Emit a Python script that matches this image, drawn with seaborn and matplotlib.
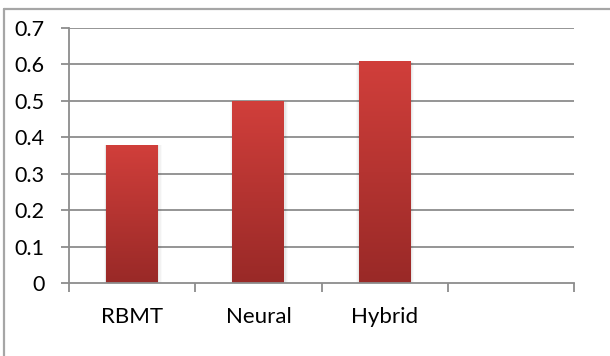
import numpy as np
import pandas as pd
import matplotlib
matplotlib.use("Agg")
import matplotlib.pyplot as plt
from matplotlib.colors import LinearSegmentedColormap
from matplotlib.lines import Line2D
import seaborn as sns

categories = ["RBMT", "Neural", "Hybrid"]
scores = [0.38, 0.50, 0.61]
yticks = [0, 0.1, 0.2, 0.3, 0.4, 0.5, 0.6, 0.7]
ytick_labels = ["0", "0.1", "0.2", "0.3", "0.4", "0.5", "0.6", "0.7"]

sns.set_theme(style="white")
plt.rcParams["font.family"] = ["Lato", "DejaVu Sans"]

W, H = 610, 356
fig = plt.figure(figsize=(W / 100, H / 100), dpi=100)
ax = fig.add_axes([69 / W, (H - 283) / H, (574 - 69) / W, (283 - 28) / H])

df = pd.DataFrame({"cat": categories, "val": scores})
sns.barplot(data=df, x="cat", y="val", ax=ax, width=0.41, color="#c0393a",
            saturation=1, zorder=3)

ax.set_xlim(-0.5, 3.5)
ax.set_ylim(0, 0.7)
ax.set_yticks(yticks)
ax.set_yticklabels(ytick_labels)
ax.set_xlabel("")
ax.set_ylabel("")

gc = "#8c8c8c"
ax.grid(False)
for y in yticks[1:]:
    ax.axhline(y, color=gc, lw=1.3, zorder=1)

for s in ["top", "right"]:
    ax.spines[s].set_visible(False)
for s in ["left", "bottom"]:
    ax.spines[s].set_color(gc)
    ax.spines[s].set_linewidth(1.3)
    ax.spines[s].set_zorder(5)

ax.tick_params(axis="y", which="major", direction="out", length=5.5, width=1.3,
               color=gc, left=True, pad=12, labelsize=15.5, labelcolor="black")
ax.set_xticks(range(len(categories)))
ax.set_xticks(np.arange(-0.5, 4.0, 1.0), minor=True)
ax.tick_params(axis="x", which="major", length=0, pad=17, labelsize=16,
               labelcolor="black")
ax.tick_params(axis="x", which="minor", direction="out", length=6.5, width=1.3,
               color=gc, bottom=True)

# gradient fill + soft shadow for each bar
cmap = LinearSegmentedColormap.from_list("g", ["#992927", "#d13f3b"])
grad = np.linspace(0, 1, 256).reshape(-1, 1)
for p in list(ax.patches):
    x0, y0 = p.get_x(), p.get_y()
    w, h = p.get_width(), p.get_height()
    for k, a in enumerate([0.045, 0.03, 0.02]):
        dx = 0.01 * (k + 1)
        ax.add_patch(plt.Rectangle((x0 - dx * 0.6, y0), w + dx * 1.6, h - 0.002,
                                   color="black", alpha=a, lw=0, zorder=2))
    im = ax.imshow(grad, extent=[x0, x0 + w, y0, y0 + h], origin="lower",
                   cmap=cmap, aspect="auto", zorder=4)
    im.set_clip_path(p)
    p.set_facecolor("none")
    p.set_edgecolor("none")
ax.set_xlim(-0.5, 3.5)
ax.set_ylim(0, 0.7)

# outer chart border (left and top visible)
bc = "#a6a6a6"
fig.add_artist(Line2D([4 / W, 4 / W], [0, (H - 9) / H], color=bc, lw=1.6,
                      transform=fig.transFigure))
fig.add_artist(Line2D([4 / W, 1], [(H - 9) / H, (H - 9) / H], color=bc, lw=1.6,
                      transform=fig.transFigure))

fig.savefig("out.png", dpi=100)
